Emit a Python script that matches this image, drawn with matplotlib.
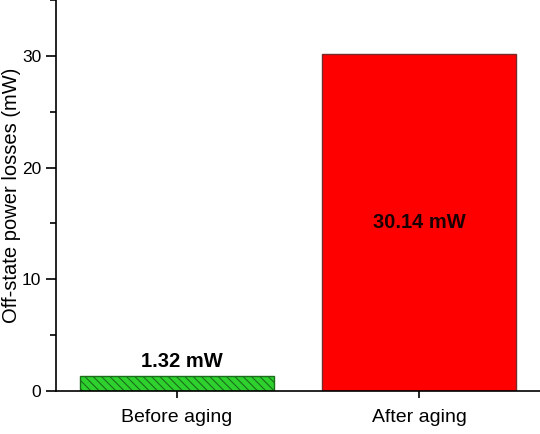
import matplotlib.pyplot as plt
from matplotlib.ticker import MultipleLocator

plt.rcParams["font.family"] = ["Liberation Sans", "DejaVu Sans"]
plt.rcParams["hatch.linewidth"] = 0.8

# data
categories = ["Before aging", "After aging"]
losses = [1.32, 30.14]
labels = ["1.32 mW", "30.14 mW"]
colors = ["#2ed12e", "#ff0000"]
hatches = ["\\\\\\\\", ""]
edges = ["#1a6e1a", "#7a2a2a"]

fig = plt.figure(figsize=(5.4, 4.34), dpi=100)
ax = fig.add_axes([56 / 540, 43 / 434, 1 - 56 / 540, 1 - 43 / 434])

pos = [1, 2]
for x, v, c, h, e in zip(pos, losses, colors, hatches, edges):
    ax.bar(x, v, width=0.8, color=c, hatch=h, edgecolor=e, linewidth=1.0, zorder=2)

# value labels
ax.text(pos[0] + 0.02, losses[0] + 0.45, labels[0], ha="center", va="bottom",
        fontsize=14.5, fontweight="bold")
ax.text(pos[1], losses[1] / 2, labels[1], ha="center", va="center",
        fontsize=14.5, fontweight="bold", color="#1a0000")

ax.set_xlim(0.5, 2.5)
ax.set_ylim(0, 35)
ax.set_xticks(pos)
ax.set_xticklabels(categories, fontsize=14)
ax.yaxis.set_major_locator(MultipleLocator(10))
ax.yaxis.set_minor_locator(MultipleLocator(5))
ax.tick_params(axis="y", labelsize=12.5, length=7, width=1.2, direction="out")
ax.tick_params(axis="y", which="minor", length=4, width=1.2)
ax.tick_params(axis="x", length=5, width=1.2, pad=8)
ax.set_ylabel("Off-state power losses (mW)", fontsize=14.5)
ax.yaxis.set_label_coords(-0.072, 0.5)

for s in ["top", "right"]:
    ax.spines[s].set_visible(False)
for s in ["left", "bottom"]:
    ax.spines[s].set_linewidth(1.2)

fig.savefig("out.png", dpi=100)
